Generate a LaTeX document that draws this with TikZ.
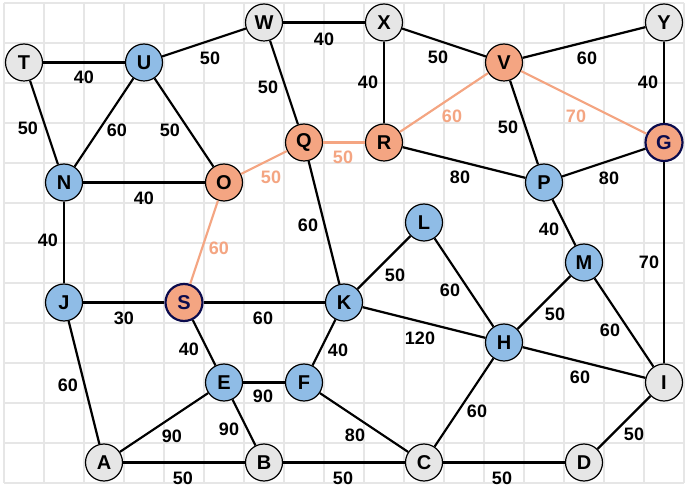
\documentclass[tikz,border=0pt]{standalone}
\usepackage{fontspec}
\setmainfont{Liberation Sans}
\definecolor{gridgray}{HTML}{E6E6E6}
\definecolor{nodegray}{HTML}{E6E6E6}
\definecolor{nodeblue}{HTML}{8FBCE6}
\definecolor{nodeorange}{HTML}{F4A582}
\definecolor{pathorange}{HTML}{F4A582}
\definecolor{navy}{HTML}{0B0B4D}
\tikzset{
  gridline/.style={draw=gridgray, line width=1.5pt},
  vtx/.style={circle, draw=black, line width=1.2pt, minimum size=37pt, inner sep=0pt,
    font=\fontsize{20}{20}\selectfont\bfseries},
  gv/.style={vtx, fill=nodegray},
  bv/.style={vtx, fill=nodeblue},
  ov/.style={vtx, fill=nodeorange},
  hl/.style={draw=navy, line width=2.2pt, text=navy},
  link/.style={draw=black, line width=2.2pt},
  hlink/.style={draw=pathorange, line width=2.2pt},
  lbl/.style={font=\fontsize{18}{18}\selectfont\bfseries, inner sep=0pt, text=black},
  hlbl/.style={lbl, text=pathorange}
}
% plain connector with its weight
\newcommand\lnk[4]{\draw[link] (#1) -- (#2); \node[lbl] (w#1#2) at (#3) {#4};}
% highlighted connector with its weight
\newcommand\hlnk[4]{\draw[hlink] (#1) -- (#2); \node[hlbl] (w#1#2) at (#3) {#4};}
\begin{document}
\begin{tikzpicture}[x=1pt, y=-1pt]
\useasboundingbox[fill=white] (0,0) rectangle (688,486);
% background grid
\foreach \x in {4,44,...,684} \draw[gridline] (\x,3) -- (\x,483);
\foreach \y in {3,43,...,483} \draw[gridline] (4,\y) -- (684,\y);

% vertices
\node[gv] (T) at (24,62.5) {T};
\node[bv] (U) at (144,62.5) {U};
\node[gv] (W) at (264,22.5) {W};
\node[gv] (X) at (384,22.5) {X};
\node[ov] (V) at (504,62.5) {V};
\node[gv] (Y) at (664,22.5) {Y};
\node[bv] (N) at (64,182.5) {N};
\node[ov] (O) at (224,182.5) {O};
\node[ov] (Q) at (304,142.5) {Q};
\node[ov] (R) at (384,142.5) {R};
\node[ov,hl] (G) at (664,142.5) {G};
\node[bv] (P) at (544,182.5) {P};
\node[bv] (L) at (424,222.5) {L};
\node[bv] (M) at (584,262.5) {M};
\node[bv] (K) at (344,302.5) {K};
\node[bv] (J) at (64,302.5) {J};
\node[ov,hl] (S) at (184,302.5) {S};
\node[bv] (H) at (504,342.5) {H};
\node[bv] (E) at (224,382.5) {E};
\node[bv] (F) at (304,382.5) {F};
\node[gv] (I) at (664,382.5) {I};
\node[gv] (A) at (104,462.5) {A};
\node[gv] (B) at (264,462.5) {B};
\node[gv] (C) at (424,462.5) {C};
\node[gv] (D) at (584,462.5) {D};

% connectors
\lnk{T}{U}{84,77}{40}
\lnk{U}{W}{210,58}{50}
\lnk{W}{X}{324,39}{40}
\lnk{T}{N}{28,128}{50}
\lnk{U}{N}{117,130}{60}
\lnk{U}{O}{170,130}{50}
\lnk{W}{Q}{268,87}{50}
\lnk{N}{O}{144,198}{40}
\hlnk{O}{Q}{271,177}{50}
\hlnk{Q}{R}{343,157}{50}
\lnk{X}{V}{438,57}{50}
\lnk{X}{R}{368,82}{40}
\lnk{V}{Y}{587,58}{60}
\lnk{Y}{G}{648,82}{40}
\hlnk{R}{V}{452,116}{60}
\hlnk{V}{G}{576,116}{70}
\lnk{V}{P}{508,127}{50}
\lnk{R}{P}{460,177}{80}
\lnk{P}{G}{609,178}{80}
\lnk{P}{M}{549,229}{40}
\lnk{Q}{K}{308,225}{60}
\lnk{N}{J}{48,240}{40}
\hlnk{O}{S}{219,248}{60}
\lnk{G}{I}{649,262}{70}
\lnk{J}{S}{124,318}{30}
\lnk{S}{K}{263,318}{60}
\lnk{S}{E}{189,349}{40}
\lnk{J}{A}{68,385}{60}
\lnk{K}{F}{338,350}{40}
\lnk{E}{F}{263,396}{90}
\lnk{E}{A}{172,436}{90}
\lnk{E}{B}{229,429}{90}
\lnk{A}{B}{183,478}{50}
\lnk{B}{C}{343,478}{50}
\lnk{F}{C}{355,435}{80}
\lnk{K}{L}{395,275}{50}
\lnk{L}{H}{450,290}{60}
\lnk{K}{H}{420,338}{120}
\lnk{M}{H}{555,314}{50}
\lnk{M}{I}{610,330}{60}
\lnk{H}{I}{580,377}{60}
\lnk{H}{C}{477,411}{60}
\lnk{C}{D}{502,478}{50}
\lnk{D}{I}{634,434}{50}
\end{tikzpicture}
\end{document}
